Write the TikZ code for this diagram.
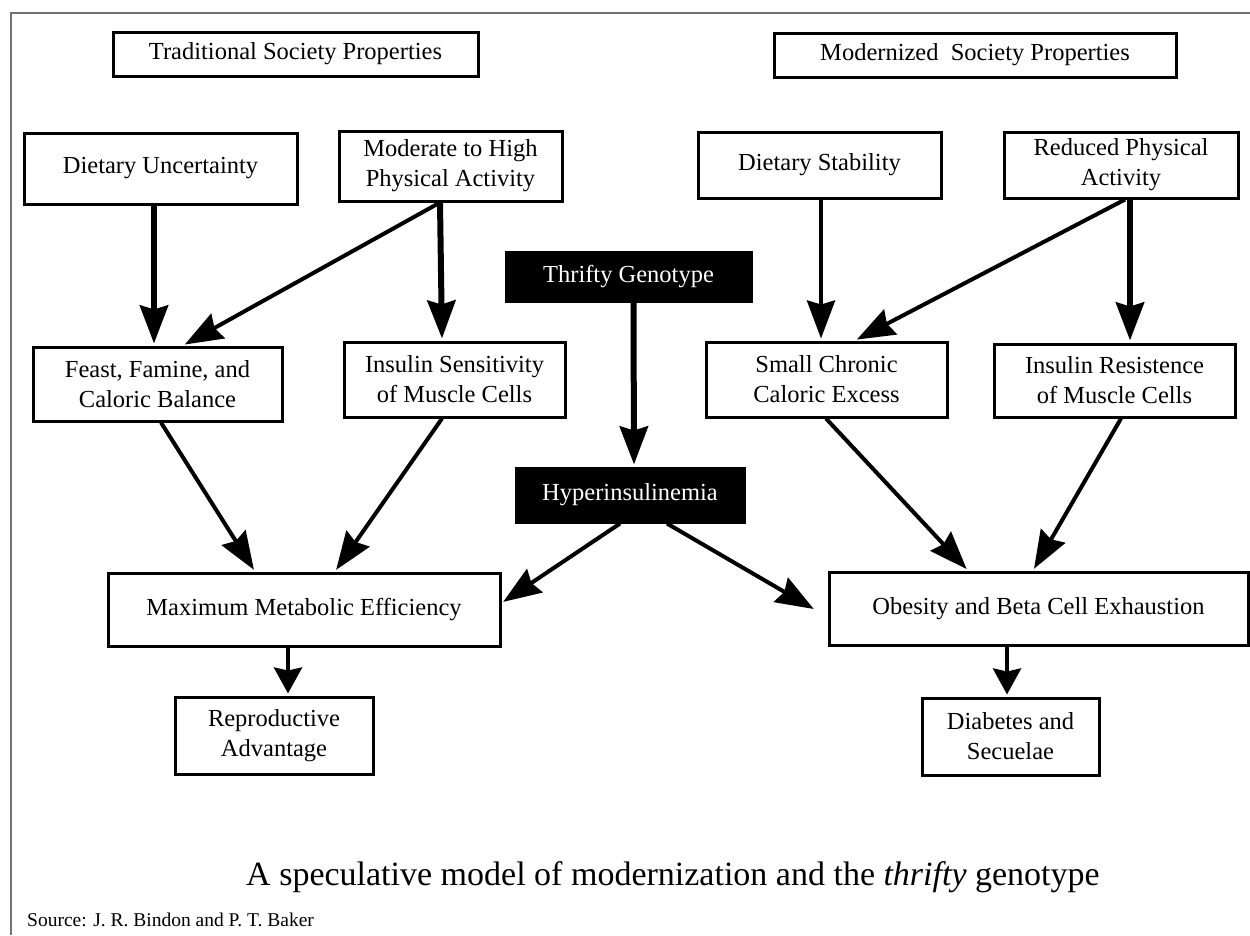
\documentclass[tikz,border=0pt]{standalone}
\usepackage{fontspec}
\setmainfont{Liberation Serif}
\usetikzlibrary{arrows.meta}
\tikzset{
  box/.style={draw=black, line width=3pt, fill=white, inner sep=0pt, align=center,
    font=\fontsize{24.5}{30}\selectfont},
  blackbox/.style={draw=black, fill=black, line width=1pt, inner sep=0pt, align=center,
    text=white, font=\fontsize{24.5}{30}\selectfont},
  bigarrow/.style={line width=#1, -{Stealth[length=38pt,width=28pt,inset=4pt]}, shorten >=2pt},
  smallarrow/.style={line width=4pt, -{Stealth[length=26pt,width=28pt,inset=3pt]}, shorten >=2pt},
}
\begin{document}
\begin{tikzpicture}[x=1pt,y=-1pt]
\useasboundingbox[fill=white] (0,0) rectangle (1250,935);
% frame
\draw[black!55, line width=2pt] (11,935) -- (11,13) -- (1250,13);
% header boxes
\node[box, minimum width=365, minimum height=44] (trad) at (295.5,54) {Traditional Society Properties};
\node[box, minimum width=402, minimum height=44] (mod) at (975,55) {Modernized\ \ Society Properties};
% row 1
\node[box, minimum width=273, minimum height=71] (du) at (160.5,168.5) {Dietary Uncertainty};
\node[box, minimum width=223, minimum height=70] (mh) at (450.5,166) {Moderate to High\\Physical Activity};
\node[box, minimum width=243, minimum height=66] (ds) at (819.5,165) {Dietary Stability};
\node[box, minimum width=234, minimum height=66] (rp) at (1121,165) {Reduced Physical\\Activity};
% central black boxes
\node[blackbox, minimum width=247, minimum height=51] (tg) at (628.5,276.5) {Thrifty Genotype};
\node[blackbox, minimum width=230, minimum height=56] (hy) at (630,495) {Hyperinsulinemia};
% row 2
\node[box, minimum width=249, minimum height=74] (ff) at (157.5,384) {Feast, Famine, and\\Caloric Balance};
\node[box, minimum width=221, minimum height=75] (is) at (454.5,379.5) {Insulin Sensitivity\\of Muscle Cells};
\node[box, minimum width=241, minimum height=75] (sc) at (826.5,379.5) {Small Chronic\\Caloric Excess};
\node[box, minimum width=241, minimum height=73] (ir) at (1114.5,380.5) {Insulin Resistence\\of Muscle Cells};
% row 3
\node[box, minimum width=392, minimum height=73] (mme) at (304,609.5) {Maximum Metabolic Efficiency};
\node[box, minimum width=419, minimum height=73] (ob) at (1038.5,608.5) {Obesity and Beta Cell Exhaustion};
% row 4
\node[box, minimum width=198, minimum height=77] (ra) at (274,735.5) {Reproductive\\Advantage};
\node[box, minimum width=177, minimum height=77] (db) at (1010.5,736.5) {Diabetes and\\Secuelae};
% caption and source
\node[font=\fontsize{34}{40}\selectfont, inner sep=0pt] (cap) at (673,877) {A speculative model of modernization and the \textit{thrifty} genotype};
\node[anchor=west, font=\fontsize{19.5}{22}\selectfont, inner sep=1pt] (src) at (26,920) {Source: J. R. Bindon and P. T. Baker};
% arrows
\draw[bigarrow=6pt] ([xshift=-6.5]du.south) -- ([xshift=-3.5]ff.north);
\draw[bigarrow=4pt] ([xshift=-10.5]mh.south) -- ([xshift=25.5]ff.north);
\draw[bigarrow=6pt] ([xshift=-10.5]mh.south) -- ([xshift=-12.5]is.north);
\draw[bigarrow=6pt] ([xshift=5]tg.south) -- ([xshift=4]hy.north);
\draw[bigarrow=4pt] ([xshift=1.5]ds.south) -- ([xshift=-5.5]sc.north);
\draw[bigarrow=4pt] ([xshift=4]rp.south) -- ([xshift=28.5]sc.north);
\draw[bigarrow=6pt] ([xshift=9]rp.south) -- ([xshift=15.5]ir.north);
\draw[bigarrow=4pt] ([xshift=3.5]ff.south) -- ([xshift=-49]mme.north);
\draw[bigarrow=4pt] ([xshift=-12.5]is.south) -- ([xshift=31]mme.north);
\draw[bigarrow=4pt] ([xshift=-10]hy.south) -- ([yshift=6.5]mme.east);
\draw[bigarrow=4pt] ([xshift=37]hy.south) -- ([xshift=-12,yshift=-1.5]ob.west);
\draw[bigarrow=4pt] ([xshift=-0.5]sc.south) -- ([xshift=-70.5]ob.north);
\draw[bigarrow=4pt] ([xshift=6.5]ir.south) -- ([xshift=-5.5]ob.north);
\draw[smallarrow] ([xshift=-16]mme.south) -- ([xshift=14]ra.north);
\draw[smallarrow] ([xshift=-31.5]ob.south) -- ([xshift=-3.5]db.north);
\end{tikzpicture}
\end{document}
